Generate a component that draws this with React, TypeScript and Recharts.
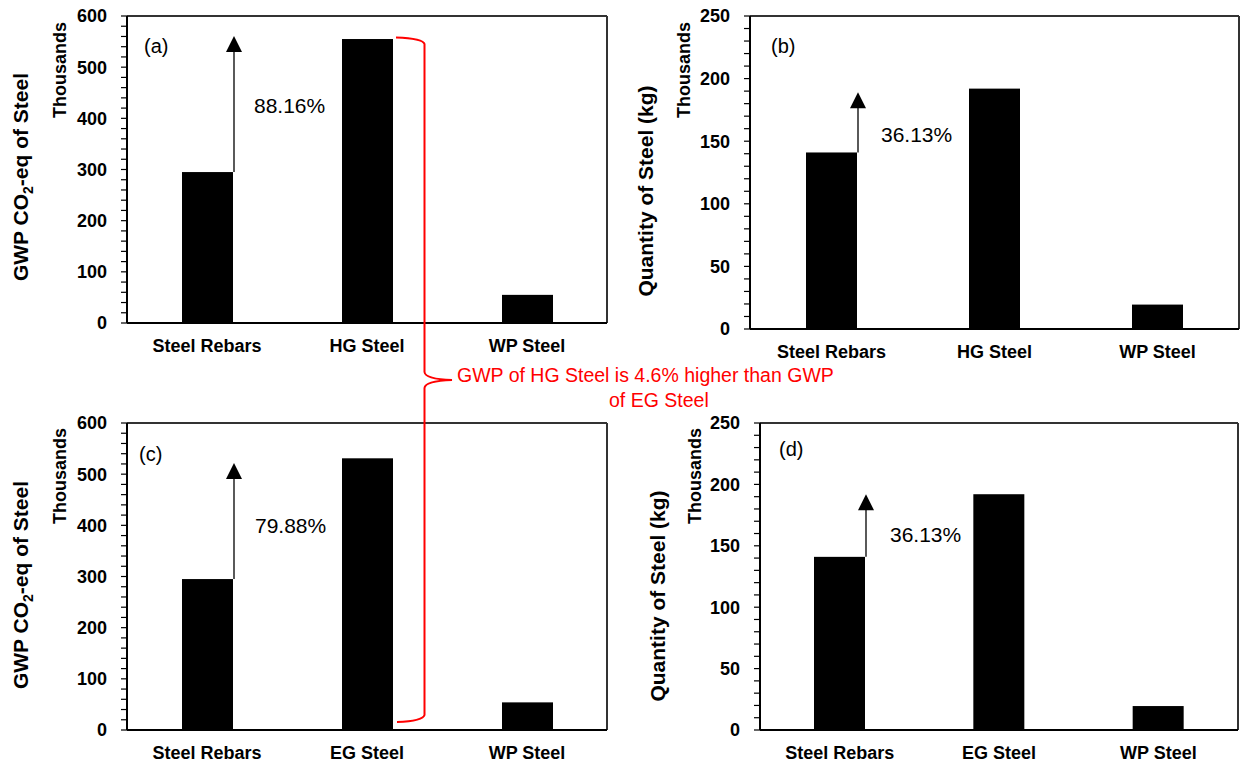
import React from "react";
import { BarChart, Bar, XAxis, YAxis, ReferenceLine } from "recharts";

document.body.style.margin = "0";

const FONT = "'Liberation Sans', Arial, Helvetica, sans-serif";

// categories
const hgCategories = ["Steel Rebars", "HG Steel", "WP Steel"];
const egCategories = ["Steel Rebars", "EG Steel", "WP Steel"];

// values (thousands)
const gwpHG = [295, 555, 55];
const gwpEG = [295, 531, 54];
const qtyHG = [141, 192, 19.5];
const qtyEG = [141, 192, 19.5];

// ticks
const gwpTicks = [0, 20, 40, 60, 80, 100, 120, 140, 160, 180, 200, 220, 240, 260, 280, 300, 320, 340, 360, 380, 400, 420, 440, 460, 480, 500, 520, 540, 560, 580, 600];
const gwpMajor = [0, 100, 200, 300, 400, 500, 600];
const qtyTicks = [0, 10, 20, 30, 40, 50, 60, 70, 80, 90, 100, 110, 120, 130, 140, 150, 160, 170, 180, 190, 200, 210, 220, 230, 240, 250];
const qtyMajor = [0, 50, 100, 150, 200, 250];

// increase annotations: arrow tip level and text level, per panel a, b, c, d
const increaseText = ["88.16%", "36.13%", "79.88%", "36.13%"];
const arrowTips = [561, 189, 522, 192];
const textLevels = [410, 149, 385, 153];

interface PanelProps {
  left: number;
  top: number;
  width: number;
  height: number;
  marginTop: number;
  marginRight: number;
  axisWidth: number;
  xAxisHeight: number;
  categories: string[];
  values: number[];
  ticks: number[];
  major: number[];
  max: number;
  arrowTip: number;
  label: string;
  labelLevel: number;
  textGap: number;
}

function Panel(p: PanelProps) {
  const data = p.categories.map((name, i) => ({ name, value: p.values[i] }));

  // eslint-disable-next-line @typescript-eslint/no-explicit-any
  const shape = (props: any) => {
    const { x, y, width, height, index, payload } = props;
    const base = y + height;
    const k = height / payload.value;
    const ax = x + width + 1;
    const tipY = base - p.arrowTip * k;
    return (
      <g>
        <rect x={x} y={y} width={width} height={height} fill="#000" />
        {index === 0 && (
          <g>
            <line x1={ax} y1={y} x2={ax} y2={tipY + 14} stroke="#000" strokeWidth={1.3} />
            <polygon points={`${ax},${tipY} ${ax - 8},${tipY + 16} ${ax + 8},${tipY + 16}`} fill="#000" />
            <text
              x={ax + p.textGap}
              y={base - p.labelLevel * k}
              fontSize={21}
              fontFamily={FONT}
              fill="#000"
            >
              {p.label}
            </text>
          </g>
        )}
      </g>
    );
  };

  return (
    <div style={{ position: "absolute", left: p.left, top: p.top }}>
      <BarChart
        width={p.width}
        height={p.height}
        data={data}
        margin={{ top: p.marginTop, right: p.marginRight, left: 0, bottom: 0 }}
      >
        <XAxis
          dataKey="name"
          height={p.xAxisHeight}
          tickSize={0}
          tickMargin={16}
          tickLine={false}
          axisLine={{ stroke: "#000", strokeWidth: 2 }}
          tick={{ fill: "#000", fontSize: 18, fontWeight: 700, fontFamily: FONT }}
        />
        <YAxis
          width={p.axisWidth}
          domain={[0, p.max]}
          ticks={p.ticks}
          interval={0}
          tickSize={6}
          tickMargin={14}
          tickFormatter={(v: number) => (p.major.includes(v) ? String(v) : "")}
          tickLine={{ stroke: "#000", strokeWidth: 1.2 }}
          axisLine={{ stroke: "#000", strokeWidth: 2 }}
          tick={{ fill: "#000", fontSize: 18, fontWeight: 700, fontFamily: FONT }}
        />
        {/* plot frame: top and right edges */}
        <ReferenceLine y={p.max} stroke="#333" strokeWidth={2} />
        <ReferenceLine x={p.categories[p.categories.length - 1]} position="end" stroke="#333" strokeWidth={2} />
        <Bar dataKey="value" barSize={51} fill="#000" shape={shape} isAnimationActive={false} />
      </BarChart>
    </div>
  );
}

function GwpTitle({ x, y }: { x: number; y: number }) {
  return (
    <text
      x={x}
      y={y}
      transform={`rotate(-90 ${x} ${y})`}
      textAnchor="middle"
      fontSize={21}
      fontWeight={700}
      fontFamily={FONT}
      fill="#000"
    >
      <tspan>GWP CO</tspan>
      <tspan dy={5} fontSize={14}>2</tspan>
      <tspan dy={-5}>-eq of Steel</tspan>
    </text>
  );
}

function VText({ x, y, text, size, anchor }: { x: number; y: number; text: string; size: number; anchor: "middle" | "end" }) {
  return (
    <text
      x={x}
      y={y}
      transform={`rotate(-90 ${x} ${y})`}
      textAnchor={anchor}
      fontSize={size}
      fontWeight={700}
      fontFamily={FONT}
      fill="#000"
    >
      {text}
    </text>
  );
}

function PanelTag({ x, y, text }: { x: number; y: number; text: string }) {
  return (
    <text x={x} y={y} fontSize={20} fontFamily={FONT} fill="#000">
      {text}
    </text>
  );
}

export default function App() {
  return (
    <div style={{ position: "relative", width: 1241, height: 763, background: "#fff", overflow: "hidden" }}>
      <Panel
        left={0} top={0} width={620} height={380}
        marginTop={16} marginRight={13} axisWidth={127} xAxisHeight={57}
        categories={hgCategories} values={gwpHG}
        ticks={gwpTicks} major={gwpMajor} max={600}
        arrowTip={arrowTips[0]} label={increaseText[0]} labelLevel={textLevels[0]} textGap={20}
      />
      <Panel
        left={620} top={0} width={621} height={380}
        marginTop={16} marginRight={2} axisWidth={130} xAxisHeight={51}
        categories={hgCategories} values={qtyHG}
        ticks={qtyTicks} major={qtyMajor} max={250}
        arrowTip={arrowTips[1]} label={increaseText[1]} labelLevel={textLevels[1]} textGap={23}
      />
      <Panel
        left={0} top={390} width={620} height={373}
        marginTop={33} marginRight={13} axisWidth={127} xAxisHeight={33}
        categories={egCategories} values={gwpEG}
        ticks={gwpTicks} major={gwpMajor} max={600}
        arrowTip={arrowTips[2]} label={increaseText[2]} labelLevel={textLevels[2]} textGap={21}
      />
      <Panel
        left={620} top={390} width={621} height={373}
        marginTop={33} marginRight={3} axisWidth={140} xAxisHeight={33}
        categories={egCategories} values={qtyEG}
        ticks={qtyTicks} major={qtyMajor} max={250}
        arrowTip={arrowTips[3]} label={increaseText[3]} labelLevel={textLevels[3]} textGap={24}
      />

      <svg
        width={1241}
        height={763}
        style={{ position: "absolute", left: 0, top: 0, pointerEvents: "none" }}
      >
        <GwpTitle x={28} y={177} />
        <GwpTitle x={28} y={585} />
        <VText x={653} y={191} text="Quantity of Steel (kg)" size={21} anchor="middle" />
        <VText x={665} y={596} text="Quantity of Steel (kg)" size={21} anchor="middle" />
        <VText x={66} y={22} text="Thousands" size={18} anchor="end" />
        <VText x={690} y={22} text="Thousands" size={18} anchor="end" />
        <VText x={66} y={428} text="Thousands" size={18} anchor="end" />
        <VText x={701} y={428} text="Thousands" size={18} anchor="end" />

        <PanelTag x={144} y={52.5} text="(a)" />
        <PanelTag x={771} y={52.5} text="(b)" />
        <PanelTag x={139} y={461} text="(c)" />
        <PanelTag x={779} y={456} text="(d)" />

        <path
          d="M 396 37.5 Q 423 38.5 424.5 44 L 424.5 372 Q 425 379 452 380 Q 425 381 424.5 388 L 424.5 715 Q 423 721 397 722"
          stroke="#FF0000"
          strokeWidth={2}
          fill="none"
        />
        <text x={457} y={382} fontSize={19.5} fontFamily={FONT} fill="#FF0000">
          GWP of HG Steel is 4.6% higher than GWP
        </text>
        <text x={609} y={407} fontSize={19.5} fontFamily={FONT} fill="#FF0000">
          of EG Steel
        </text>
      </svg>
    </div>
  );
}
